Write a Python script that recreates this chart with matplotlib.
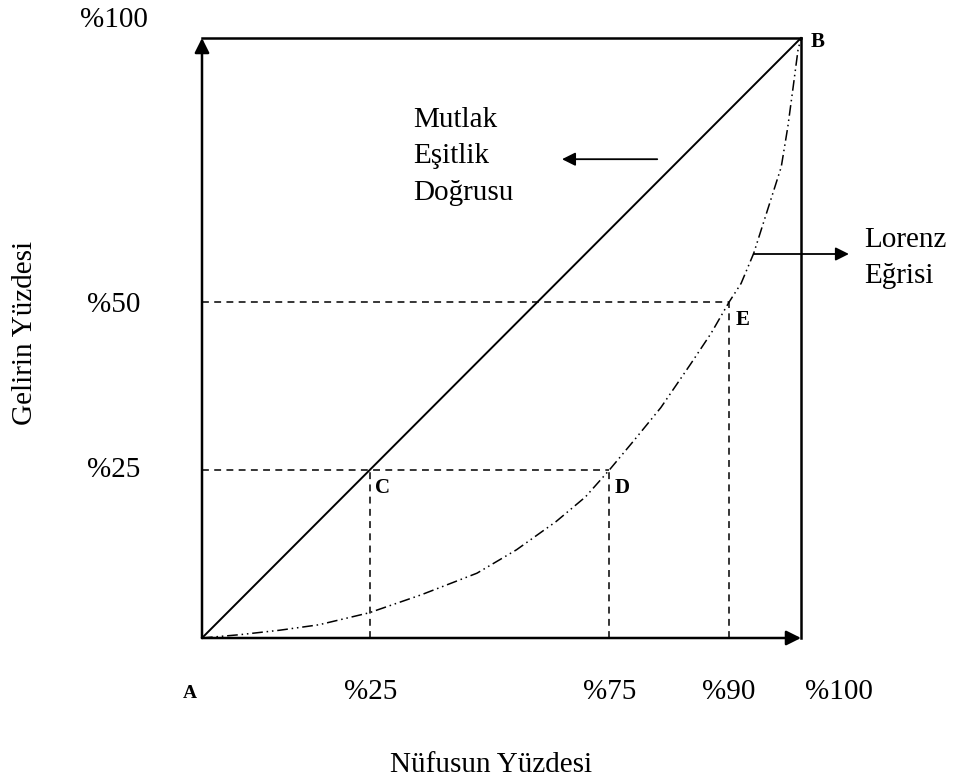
import matplotlib
matplotlib.use('Agg')
import matplotlib.pyplot as plt
import numpy as np

plt.rcParams['font.family'] = ['Liberation Serif', 'DejaVu Serif']

# Lorenz egrisi (nufus %, gelir %) - resimden okunan noktalar
lorenz_x = [0, 6.3, 13, 19.5, 27.9, 36.6, 45.9, 52.5, 59.1, 64, 68, 72.1, 76.6, 81.6, 85, 88,
            90, 92.1, 94.4, 96.7, 97.8, 98.7, 99.5, 100]
lorenz_y = [0, 0.55, 1.3, 2.2, 4.2, 7.2, 10.8, 14.7, 19.4, 23.5, 28, 32.9, 38.4, 45.7, 50.8, 56,
            59.1, 64.1, 71.3, 78.5, 85.2, 91.9, 98, 100]

# isaretli noktalar
pt_names = ['C', 'D', 'E']
pt_x = [28, 68, 88]
pt_y = [28, 28, 56]

x_tick_labels = ['%25', '%75', '%90', '%100']
y_tick_labels = ['%25', '%50', '%100']

fig = plt.figure(figsize=(9.72, 7.83), dpi=100)
ax = fig.add_axes([202/972, (783-638)/783, 599/972, 600/783])
ax.set_xlim(0, 100)
ax.set_ylim(0, 100)
ax.axis('off')

arr = dict(arrowstyle='-|>', color='k', lw=1.8, mutation_scale=22, shrinkA=0, shrinkB=0)

# cerceve ve eksenler
ax.plot([0, 100], [100, 100], color='k', lw=1.8, clip_on=False)
ax.plot([100, 100], [0, 100], color='k', lw=1.8, clip_on=False)
ax.annotate('', xy=(0, 100), xytext=(0, 0), arrowprops=arr, annotation_clip=False)
ax.annotate('', xy=(100, 0), xytext=(0, 0), arrowprops=arr, annotation_clip=False)

# mutlak esitlik dogrusu
ax.plot([0, 100], [0, 100], color='k', lw=1.4, clip_on=False)
# lorenz egrisi
ax.plot(lorenz_x, lorenz_y, color='k', lw=1.1, dashes=(7, 2.5, 1, 2.5, 1, 2.5), clip_on=False)

# kesikli yardimci cizgiler
dash = (4.5, 3.5)
ax.plot([0, pt_x[1]], [pt_y[0], pt_y[1]], color='k', lw=1.1, dashes=dash)
ax.plot([0, pt_x[2]], [pt_y[2], pt_y[2]], color='k', lw=1.1, dashes=dash)
for xv, yv in zip(pt_x, pt_y):
    ax.plot([xv, xv], [0, yv], color='k', lw=1.1, dashes=dash)

# nokta etiketleri
for name, xv, yv in zip(pt_names, pt_x, pt_y):
    ax.text(xv + 2.2, yv - 3.0, name, fontsize=15, fontweight='bold', ha='center', va='center')
ax.text(-2, -9.2, 'A', fontsize=14, fontweight='bold', ha='center', va='center')
ax.text(102.8, 99.3, 'B', fontsize=15, fontweight='bold', ha='center', va='center')

# eksen degerleri
for xv, lab in zip([28.1, 68, 88, 106.4], x_tick_labels):
    ax.text(xv, -9, lab, fontsize=21, ha='center', va='center')
for yv, lab in zip([28, 55.5, 103], y_tick_labels):
    ax.text(-14.7, yv, lab, fontsize=21, ha='center', va='center')

ax.text(48.2, -21.2, 'Nüfusun Yüzdesi', fontsize=21, ha='center', va='center')
ax.text(-29.6, 50.8, 'Gelirin Yüzdesi', fontsize=21, ha='center', va='center', rotation=90)

# aciklamalar
arr2 = dict(arrowstyle='-|>', color='k', lw=1.3, mutation_scale=20, shrinkA=0, shrinkB=0)
for yv, line in zip([85.2, 79.2, 73.0], ['Mutlak', 'Eşitlik', 'Doğrusu']):
    ax.text(35.3, yv, line, fontsize=21, ha='left', va='baseline')
ax.annotate('', xy=(60.1, 79.8), xytext=(76, 79.8), arrowprops=arr2, annotation_clip=False)
for yv, line in zip([65.2, 59.2], ['Lorenz', 'Eğrisi']):
    ax.text(110.6, yv, line, fontsize=21, ha='left', va='baseline')
ax.annotate('', xy=(108, 64), xytext=(92.1, 64), arrowprops=arr2, annotation_clip=False)

fig.savefig('out.png', dpi=100)
